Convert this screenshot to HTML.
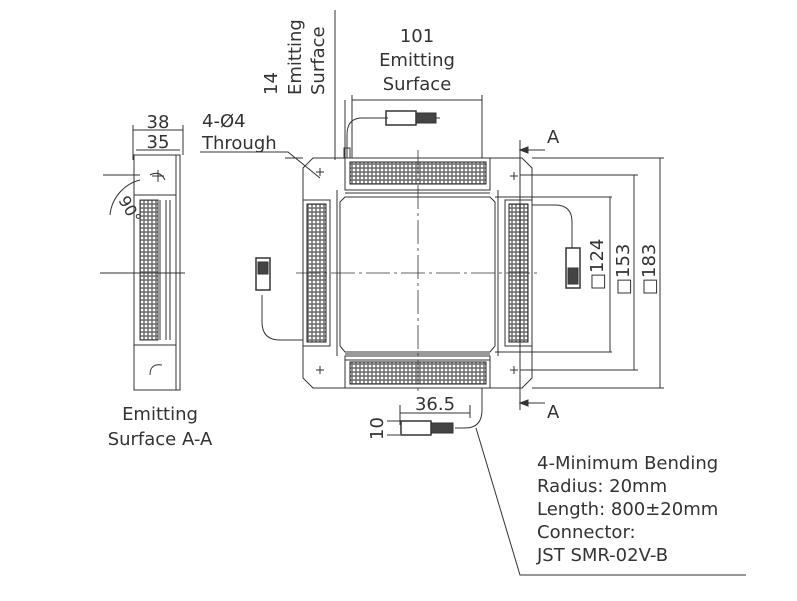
<!DOCTYPE html>
<html><head><meta charset="utf-8"><style>
html,body{margin:0;padding:0;background:#fff;}
svg{display:block;font-family:"DejaVu Sans","Liberation Sans",sans-serif;}
</style></head><body>
<svg width="797" height="601" viewBox="0 0 797 601" xmlns="http://www.w3.org/2000/svg">
<defs>
<pattern id="dots" width="4" height="4" patternUnits="userSpaceOnUse">
<rect width="4" height="4" fill="#777"/><circle cx="2" cy="2" r="1.3" fill="#fff"/>
</pattern>
</defs>
<g stroke="#333" fill="none" stroke-width="1">
<path d="M313 158 H345 V190 H490 V158 H522 L532 168 V378 L522 388 H490 V360 H345 V388 H313 L303 378 V346 H330 V200 H303 V168 Z" />
<path d="M303 200 V346 M532 200 V346"/>
<rect x="303" y="200" width="27" height="146"/>
<rect x="505" y="200" width="27" height="146"/>
<rect x="345" y="158" width="145" height="32"/>
<rect x="345" y="356" width="145" height="32"/>
<rect x="350" y="162" width="136" height="22" fill="url(#dots)" stroke="#222"/>
<rect x="350" y="362" width="136" height="22" fill="url(#dots)" stroke="#222"/>
<rect x="307" y="204" width="19" height="138" fill="url(#dots)" stroke="#222"/>
<rect x="509" y="204" width="19" height="138" fill="url(#dots)" stroke="#222"/>
<path d="M345 197 H490 L495 202 V346 L490 352 H345 L340 346 V202 Z"/>
<path d="M337 190 V356 M498 190 V356 M345 193 H490 M345 354 H490"/>
<path d="M296 273 H540 M418 150 V395" stroke-dasharray="24 4 3 4" stroke-width="0.8"/>
<path d="M316 172 h8 M320 168 v8 M510 176 h8 M514 172 v8 M316 370 h8 M320 366 v8 M510 370 h8 M514 366 v8"/>
<path d="M335 10 V160 M345 100 V158 M285 158 H303"/>
<path d="M352 100 H482 M352 95 V158 M482 95 V158"/>
<path d="M520 140 V410 M520 150 H545 M520 403 H545"/>
<path d="M520 150 l8 -3 v6 z M520 403 l8 -3 v6z" fill="#333"/>
<path d="M495 197 H612 M495 352 H612 M610 197 V352 M520 175 H638 M520 370 H638 M634 175 V370 M532 158 H664 M532 388 H664 M660 158 V388"/>
<path d="M347 158 V135 Q347 118 362 118 H388 M435 118 H440"/>
<rect x="344" y="148" width="6" height="10"/>
<rect x="386" y="111" width="30" height="14" stroke-width="1.5"/>
<rect x="416" y="113" width="20" height="10" fill="#444"/>
<path d="M200 152 H288 L320 178"/>
<path d="M303 340 H280 Q262 340 262 322 V295"/>
<rect x="256" y="258" width="14" height="32" stroke-width="1.5"/>
<rect x="258" y="262" width="10" height="12" fill="#444"/>
<path d="M532 205 H555 Q572 205 572 222 V248"/>
<rect x="566" y="248" width="14" height="40" stroke-width="1.5"/>
<rect x="568" y="268" width="10" height="16" fill="#444"/>
<path d="M482 388 V410 Q482 428 465 428 H455"/>
<rect x="401" y="421" width="30" height="14" stroke-width="1.5"/>
<rect x="431" y="423" width="22" height="10" fill="#444"/>
<path d="M400 413 H470 M400 405 V425 M470 405 V418 M387 421 H400 M387 435 H400"/>
<path d="M476 428 L520 575 H746"/>
<path d="M133 130 H183 M133 125 V160 M183 125 V155 M136 150 H180"/>
<rect x="134" y="155" width="46" height="235"/>
<rect x="134" y="155" width="42" height="40"/>
<rect x="134" y="345" width="42" height="45"/>
<rect x="140" y="200" width="18" height="140" fill="url(#dots)"/>
<path d="M160 200 V340 M166 200 V340 M170 200 V340 M176 195 V345 M180 155 V390"/>
<path d="M100 273 H185"/>
<path d="M140 180 A40 40 0 0 0 110 215 M103 175 H140"/>
<path d="M150 175 q10 -5 15 5 M158 170 v12 M152 176 h12 M150 375 q0 -12 12 -10"/>
</g>
<g fill="#333" font-size="18">
<text x="417" y="42" text-anchor="middle">101</text>
<text x="417" y="66" text-anchor="middle">Emitting</text>
<text x="417" y="90" text-anchor="middle">Surface</text>
<text transform="translate(277,95) rotate(-90)">14</text>
<text transform="translate(301,95) rotate(-90)">Emitting</text>
<text transform="translate(324,95) rotate(-90)">Surface</text>
<text x="202" y="127">4-Ø4</text>
<text x="202" y="149">Through</text>
<text x="547" y="143">A</text>
<text x="547" y="418">A</text>
<text transform="translate(603,290) rotate(-90)">□124</text>
<text transform="translate(629,295) rotate(-90)">□153</text>
<text transform="translate(655,295) rotate(-90)">□183</text>
<text x="435" y="410" text-anchor="middle">36.5</text>
<text transform="translate(383,440) rotate(-90)">10</text>
<text x="158" y="128" text-anchor="middle">38</text>
<text x="158" y="148" text-anchor="middle">35</text>
<text transform="translate(118,200) rotate(60)" font-size="16">90°</text>
<text x="160" y="420" text-anchor="middle">Emitting</text>
<text x="160" y="445" text-anchor="middle">Surface A-A</text>
<text x="537" y="469">4-Minimum Bending</text>
<text x="537" y="492">Radius: 20mm</text>
<text x="537" y="515">Length: 800±20mm</text>
<text x="537" y="538">Connector:</text>
<text x="537" y="561">JST SMR-02V-B</text>
</g>
</svg>
</body></html>
